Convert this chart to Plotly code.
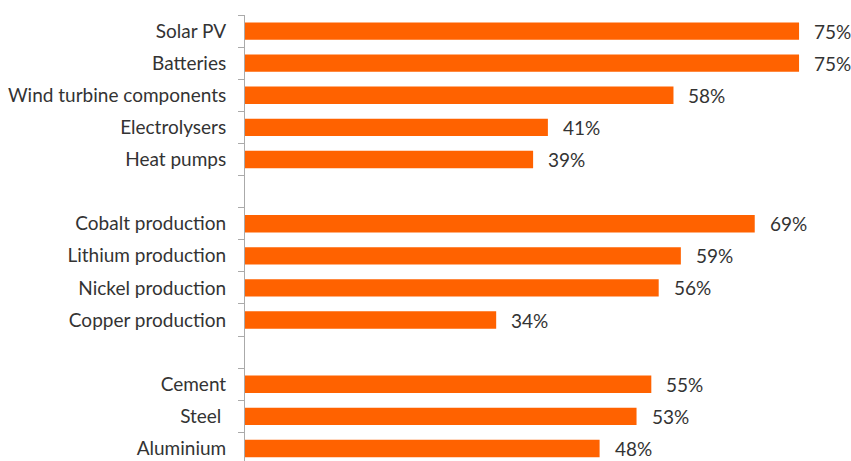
import plotly.graph_objects as go

# Share of global capacity / production by sector (%), grouped with blank spacer rows
categories = [
    "Solar PV", "Batteries", "Wind turbine components", "Electrolysers", "Heat pumps",
    " ",
    "Cobalt production", "Lithium production", "Nickel production", "Copper production",
    "  ",
    "Cement", "Steel\u00a0", "Aluminium",
]
values = [75, 75, 58, 41, 39, None, 69, 59, 56, 34, None, 55, 53, 48]
labels = [f"{v}%" if v is not None else "" for v in values]

ORANGE = "#FF6200"
TEXT = "#333333"
FONT = "Lato"
SIZE = 19

fig = go.Figure(
    go.Bar(
        x=values,
        y=categories,
        orientation="h",
        marker=dict(color=ORANGE, line=dict(width=0)),
        width=0.54,
        hoverinfo="skip",
    )
)

# value labels to the right of each bar
for cat, v, lab in zip(categories, values, labels):
    if v is None:
        continue
    fig.add_annotation(
        x=v, y=cat, text=lab, showarrow=False,
        xanchor="left", yanchor="middle", xshift=13,
        font=dict(family=FONT, size=SIZE, color=TEXT),
    )

fig.update_layout(
    width=851, height=461,
    margin=dict(l=245, r=15, t=15, b=0),
    paper_bgcolor="white", plot_bgcolor="white",
    showlegend=False,
    font=dict(family=FONT, size=SIZE, color=TEXT),
)
fig.update_xaxes(
    range=[0, 80], visible=False, showgrid=False, zeroline=False,
)
fig.update_yaxes(
    type="category",
    categoryorder="array", categoryarray=categories,
    range=[13.39, -0.5],
    showline=True, linecolor="#AAAAAA", linewidth=1,
    ticks="outside", ticklen=6, tickcolor="#AAAAAA", tickwidth=1,
    tickson="boundaries",
    ticklabelstandoff=14,
    showgrid=False, zeroline=False,
    tickfont=dict(family=FONT, size=SIZE, color=TEXT),
)

fig.write_html("out.html")
